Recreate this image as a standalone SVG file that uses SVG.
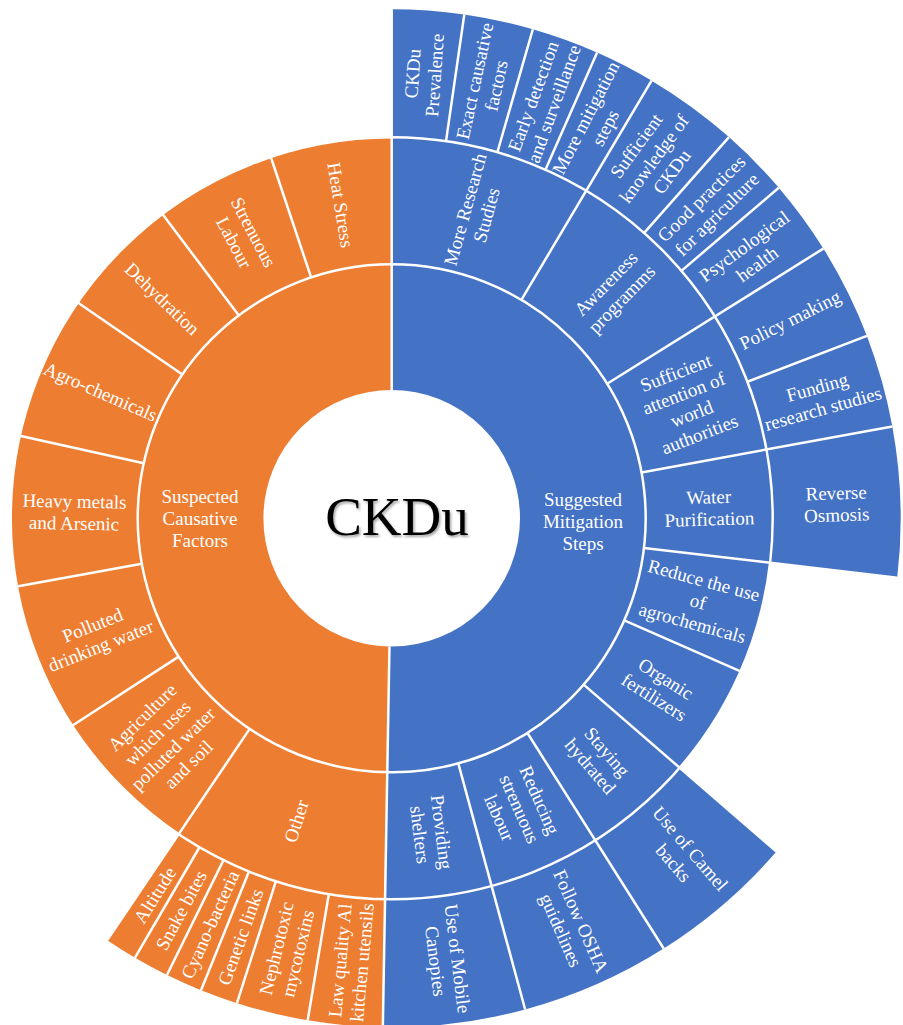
<svg xmlns="http://www.w3.org/2000/svg" width="903" height="1025" viewBox="0 0 903 1025">
  <defs>
    <style>
      .b { fill: none; stroke: #4472C4; }
      .o { fill: none; stroke: #ED7D31; }
      .w1 { stroke-width: 125.7; }
      .w2 { stroke-width: 127; }
      .w3 { stroke-width: 128; }
      .lbl { font-family: "Liberation Serif", "Times New Roman", serif; font-size: 19px; fill: #ffffff; text-anchor: middle; }
      .dividers line, .dividers circle { stroke: #ffffff; stroke-width: 2.5; fill: none; }
    </style>
    <filter id="soft-shadow" x="-10%" y="-20%" width="120%" height="150%">
      <feDropShadow dx="1.5" dy="2" stdDeviation="1.2" flood-color="#000" flood-opacity="0.35"/>
    </filter>
  </defs>

  <rect width="903" height="1025" fill="#ffffff"/>

  <!-- Sunburst: every segment is a dashed circle stroke, dash units in degrees (pathLength=360) -->
  <g id="sunburst" transform="translate(391.7 518.3)">

    <!-- Level 1 -->
    <g id="n-mitigation">
      <circle class="b w1" r="191.15" pathLength="360" stroke-dasharray="181 400" transform="rotate(-90)"/>
    </g>
    <g id="n-causative">
      <circle class="o w1" r="191.15" pathLength="360" stroke-dasharray="179 400" transform="rotate(91)"/>
    </g>

    <!-- Level 2: mitigation steps -->
    <g id="n-more-research">
      <circle class="b w2" r="317.5" pathLength="360" stroke-dasharray="30.7 400" transform="rotate(-90)"/>
      <text class="lbl" transform="rotate(15.35) translate(0 -317.5) rotate(-90)"><tspan x="0" y="-4.5">More Research</tspan><tspan x="0" y="17.5">Studies</tspan></text>
    </g>
    <g id="n-awareness">
      <circle class="b w2" r="317.5" pathLength="360" stroke-dasharray="27.3 400" transform="rotate(-59.3)"/>
      <text class="lbl" transform="rotate(44.35) translate(0 -317.5) rotate(-90)"><tspan x="0" y="-4.5">Awareness</tspan><tspan x="0" y="17.5">programms</tspan></text>
    </g>
    <g id="n-attention">
      <circle class="b w2" r="317.5" pathLength="360" stroke-dasharray="21.6 400" transform="rotate(-32)"/>
      <text class="lbl" transform="rotate(68.8) translate(0 -317.5) rotate(-90)"><tspan x="0" y="-26.5">Sufficient</tspan><tspan x="0" y="-4.5">attention of</tspan><tspan x="0" y="17.5">world</tspan><tspan x="0" y="39.5">authorities</tspan></text>
    </g>
    <g id="n-water-purification">
      <circle class="b w2" r="317.5" pathLength="360" stroke-dasharray="17.1 400" transform="rotate(-10.4)"/>
      <text class="lbl" transform="rotate(88.15) translate(0 -317.5) rotate(-90)"><tspan x="0" y="-4.5">Water</tspan><tspan x="0" y="17.5">Purification</tspan></text>
    </g>
    <g id="n-reduce-agrochemicals">
      <circle class="b w2" r="317.5" pathLength="360" stroke-dasharray="17 400" transform="rotate(6.7)"/>
      <text class="lbl" transform="rotate(105.2) translate(0 -317.5) rotate(-90)"><tspan x="0" y="-15.5">Reduce the use</tspan><tspan x="0" y="6.5">of</tspan><tspan x="0" y="28.5">agrochemicals</tspan></text>
    </g>
    <g id="n-organic">
      <circle class="b w2" r="317.5" pathLength="360" stroke-dasharray="17.2 400" transform="rotate(23.7)"/>
      <text class="lbl" transform="rotate(122.3) translate(0 -317.5) rotate(-90)"><tspan x="0" y="-4.5">Organic</tspan><tspan x="0" y="17.5">fertilizers</tspan></text>
    </g>
    <g id="n-hydrated">
      <circle class="b w2" r="317.5" pathLength="360" stroke-dasharray="16.8 400" transform="rotate(40.9)"/>
      <text class="lbl" transform="rotate(139.3) translate(0 -317.5) rotate(-90)"><tspan x="0" y="-4.5">Staying</tspan><tspan x="0" y="17.5">hydrated</tspan></text>
    </g>
    <g id="n-reduce-labour">
      <circle class="b w2" r="317.5" pathLength="360" stroke-dasharray="17.1 400" transform="rotate(57.7)"/>
      <text class="lbl" transform="rotate(156.25) translate(0 -317.5) rotate(-90)"><tspan x="0" y="-15.5">Reducing</tspan><tspan x="0" y="6.5">strenuous</tspan><tspan x="0" y="28.5">labour</tspan></text>
    </g>
    <g id="n-shelters">
      <circle class="b w2" r="317.5" pathLength="360" stroke-dasharray="16.2 400" transform="rotate(74.8)"/>
      <text class="lbl" transform="rotate(172.9) translate(0 -317.5) rotate(-90)"><tspan x="0" y="-4.5">Providing</tspan><tspan x="0" y="17.5">shelters</tspan></text>
    </g>

    <!-- Level 2: causative factors -->
    <g id="n-other">
      <circle class="o w2" r="317.5" pathLength="360" stroke-dasharray="33 400" transform="rotate(91)"/>
      <text class="lbl" transform="rotate(197.5) translate(0 -317.5) rotate(90)"><tspan x="0" y="6.5">Other</tspan></text>
    </g>
    <g id="n-agriculture">
      <circle class="o w2" r="317.5" pathLength="360" stroke-dasharray="23 400" transform="rotate(124)"/>
      <text class="lbl" transform="rotate(225.5) translate(0 -317.5) rotate(90)"><tspan x="0" y="-26.5">Agriculture</tspan><tspan x="0" y="-4.5">which uses</tspan><tspan x="0" y="17.5">polluted water</tspan><tspan x="0" y="39.5">and soil</tspan></text>
    </g>
    <g id="n-polluted-water">
      <circle class="o w2" r="317.5" pathLength="360" stroke-dasharray="22.7 400" transform="rotate(147)"/>
      <text class="lbl" transform="rotate(248.35) translate(0 -317.5) rotate(90)"><tspan x="0" y="-4.5">Polluted</tspan><tspan x="0" y="17.5">drinking water</tspan></text>
    </g>
    <g id="n-heavy-metals">
      <circle class="o w2" r="317.5" pathLength="360" stroke-dasharray="22.8 400" transform="rotate(169.7)"/>
      <text class="lbl" transform="rotate(271.1) translate(0 -317.5) rotate(90)"><tspan x="0" y="-4.5">Heavy metals</tspan><tspan x="0" y="17.5">and Arsenic</tspan></text>
    </g>
    <g id="n-agro-chemicals">
      <circle class="o w2" r="317.5" pathLength="360" stroke-dasharray="22 400" transform="rotate(192.5)"/>
      <text class="lbl" transform="rotate(293.5) translate(0 -317.5) rotate(90)"><tspan x="0" y="6.5">Agro-chemicals</tspan></text>
    </g>
    <g id="n-dehydration">
      <circle class="o w2" r="317.5" pathLength="360" stroke-dasharray="18.5 400" transform="rotate(214.5)"/>
      <text class="lbl" transform="rotate(313.75) translate(0 -317.5) rotate(90)"><tspan x="0" y="6.5">Dehydration</tspan></text>
    </g>
    <g id="n-strenuous-labour">
      <circle class="o w2" r="317.5" pathLength="360" stroke-dasharray="18.5 400" transform="rotate(233)"/>
      <text class="lbl" transform="rotate(332.25) translate(0 -317.5) rotate(90)"><tspan x="0" y="-4.5">Strenuous</tspan><tspan x="0" y="17.5">Labour</tspan></text>
    </g>
    <g id="n-heat-stress">
      <circle class="o w2" r="317.5" pathLength="360" stroke-dasharray="18.5 400" transform="rotate(251.5)"/>
      <text class="lbl" transform="rotate(350.75) translate(0 -317.5) rotate(90)"><tspan x="0" y="6.5">Heat Stress</tspan></text>
    </g>

    <!-- Level 3: mitigation details -->
    <g id="n-prevalence">
      <circle class="b w3" r="445" pathLength="360" stroke-dasharray="8.2 400" transform="rotate(-90)"/>
      <text class="lbl" transform="rotate(4.1) translate(0 -445) rotate(-90)"><tspan x="0" y="-4.5">CKDu</tspan><tspan x="0" y="17.5">Prevalence</tspan></text>
    </g>
    <g id="n-exact-factors">
      <circle class="b w3" r="445" pathLength="360" stroke-dasharray="7.9 400" transform="rotate(-81.8)"/>
      <text class="lbl" transform="rotate(12.15) translate(0 -445) rotate(-90)"><tspan x="0" y="-4.5">Exact causative</tspan><tspan x="0" y="17.5">factors</tspan></text>
    </g>
    <g id="n-early-detection">
      <circle class="b w3" r="445" pathLength="360" stroke-dasharray="7.7 400" transform="rotate(-73.9)"/>
      <text class="lbl" transform="rotate(19.95) translate(0 -445) rotate(-90)"><tspan x="0" y="-4.5">Early detection</tspan><tspan x="0" y="17.5">and surveillance</tspan></text>
    </g>
    <g id="n-more-mitigation">
      <circle class="b w3" r="445" pathLength="360" stroke-dasharray="6.9 400" transform="rotate(-66.2)"/>
      <text class="lbl" transform="rotate(27.25) translate(0 -445) rotate(-90)"><tspan x="0" y="-4.5">More mitigation</tspan><tspan x="0" y="17.5">steps</tspan></text>
    </g>
    <g id="n-knowledge">
      <circle class="b w3" r="445" pathLength="360" stroke-dasharray="10.8 400" transform="rotate(-59.3)"/>
      <text class="lbl" transform="rotate(36.1) translate(0 -445) rotate(-90)"><tspan x="0" y="-15.5">Sufficient</tspan><tspan x="0" y="6.5">knowledge of</tspan><tspan x="0" y="28.5">CKDu</tspan></text>
    </g>
    <g id="n-good-practices">
      <circle class="b w3" r="445" pathLength="360" stroke-dasharray="8 400" transform="rotate(-48.5)"/>
      <text class="lbl" transform="rotate(45.5) translate(0 -445) rotate(-90)"><tspan x="0" y="-4.5">Good practices</tspan><tspan x="0" y="17.5">for agriculture</tspan></text>
    </g>
    <g id="n-psychological">
      <circle class="b w3" r="445" pathLength="360" stroke-dasharray="8.5 400" transform="rotate(-40.5)"/>
      <text class="lbl" transform="rotate(53.75) translate(0 -445) rotate(-90)"><tspan x="0" y="-4.5">Psychological</tspan><tspan x="0" y="17.5">health</tspan></text>
    </g>
    <g id="n-policy">
      <circle class="b w3" r="445" pathLength="360" stroke-dasharray="11 400" transform="rotate(-32)"/>
      <text class="lbl" transform="rotate(63.5) translate(0 -445) rotate(-90)"><tspan x="0" y="6.5">Policy making</tspan></text>
    </g>
    <g id="n-funding">
      <circle class="b w3" r="445" pathLength="360" stroke-dasharray="10.6 400" transform="rotate(-21)"/>
      <text class="lbl" transform="rotate(74.3) translate(0 -445) rotate(-90)"><tspan x="0" y="-4.5">Funding</tspan><tspan x="0" y="17.5">research studies</tspan></text>
    </g>
    <g id="n-reverse-osmosis">
      <circle class="b w3" r="445" pathLength="360" stroke-dasharray="17.1 400" transform="rotate(-10.4)"/>
      <text class="lbl" transform="rotate(88.15) translate(0 -445) rotate(-90)"><tspan x="0" y="-4.5">Reverse</tspan><tspan x="0" y="17.5">Osmosis</tspan></text>
    </g>
    <g id="n-camel-backs">
      <circle class="b w3" r="445" pathLength="360" stroke-dasharray="16.8 400" transform="rotate(40.9)"/>
      <text class="lbl" transform="rotate(139.3) translate(0 -445) rotate(-90)"><tspan x="0" y="-4.5">Use of Camel</tspan><tspan x="0" y="17.5">backs</tspan></text>
    </g>
    <g id="n-osha">
      <circle class="b w3" r="445" pathLength="360" stroke-dasharray="17.1 400" transform="rotate(57.7)"/>
      <text class="lbl" transform="rotate(156.25) translate(0 -445) rotate(-90)"><tspan x="0" y="-4.5">Follow OSHA</tspan><tspan x="0" y="17.5">guidelines</tspan></text>
    </g>
    <g id="n-canopies">
      <circle class="b w3" r="445" pathLength="360" stroke-dasharray="16.2 400" transform="rotate(74.8)"/>
      <text class="lbl" transform="rotate(172.9) translate(0 -445) rotate(-90)"><tspan x="0" y="-4.5">Use of Mobile</tspan><tspan x="0" y="17.5">Canopies</tspan></text>
    </g>

    <!-- Level 3: other factors -->
    <g id="n-utensils">
      <circle class="o w3" r="445" pathLength="360" stroke-dasharray="8.5 400" transform="rotate(91)"/>
      <text class="lbl" transform="rotate(185.25) translate(0 -445) rotate(90)"><tspan x="0" y="-4.5">Law quality Al</tspan><tspan x="0" y="17.5">kitchen utensils</tspan></text>
    </g>
    <g id="n-mycotoxins">
      <circle class="o w3" r="445" pathLength="360" stroke-dasharray="8.2 400" transform="rotate(99.5)"/>
      <text class="lbl" transform="rotate(193.6) translate(0 -445) rotate(90)"><tspan x="0" y="-4.5">Nephrotoxic</tspan><tspan x="0" y="17.5">mycotoxins</tspan></text>
    </g>
    <g id="n-genetic">
      <circle class="o w3" r="445" pathLength="360" stroke-dasharray="4.3 400" transform="rotate(107.7)"/>
      <text class="lbl" transform="rotate(199.85) translate(0 -445) rotate(90)"><tspan x="0" y="6.5">Genetic links</tspan></text>
    </g>
    <g id="n-cyanobacteria">
      <circle class="o w3" r="445" pathLength="360" stroke-dasharray="4.2 400" transform="rotate(112)"/>
      <text class="lbl" transform="rotate(204.1) translate(0 -445) rotate(90)"><tspan x="0" y="6.5">Cyano-bacteria</tspan></text>
    </g>
    <g id="n-snake-bites">
      <circle class="o w3" r="445" pathLength="360" stroke-dasharray="4.1 400" transform="rotate(116.2)"/>
      <text class="lbl" transform="rotate(208.25) translate(0 -445) rotate(90)"><tspan x="0" y="6.5">Snake bites</tspan></text>
    </g>
    <g id="n-altitude">
      <circle class="o w3" r="445" pathLength="360" stroke-dasharray="3.7 400" transform="rotate(120.3)"/>
      <text class="lbl" transform="rotate(212.15) translate(0 -445) rotate(90)"><tspan x="0" y="6.5">Altitude</tspan></text>
    </g>

    <!-- White dividers between rings and segments -->
    <g id="dividers" class="dividers">
      <circle r="254"/>
      <circle r="381"/>
      <line y1="-128.3" y2="-509" transform="rotate(0)"/>
      <line y1="-128.3" y2="-509" transform="rotate(181)"/>
      <line y1="-254" y2="-509" transform="rotate(30.7)"/>
      <line y1="-254" y2="-509" transform="rotate(58)"/>
      <line y1="-254" y2="-509" transform="rotate(79.6)"/>
      <line y1="-254" y2="-509" transform="rotate(96.7)"/>
      <line y1="-254" y2="-509" transform="rotate(130.9)"/>
      <line y1="-254" y2="-509" transform="rotate(147.7)"/>
      <line y1="-254" y2="-509" transform="rotate(164.8)"/>
      <line y1="-254" y2="-509" transform="rotate(214)"/>
      <line y1="-254" y2="-381" transform="rotate(113.7)"/>
      <line y1="-254" y2="-381" transform="rotate(237)"/>
      <line y1="-254" y2="-381" transform="rotate(259.7)"/>
      <line y1="-254" y2="-381" transform="rotate(282.5)"/>
      <line y1="-254" y2="-381" transform="rotate(304.5)"/>
      <line y1="-254" y2="-381" transform="rotate(323)"/>
      <line y1="-254" y2="-381" transform="rotate(341.5)"/>
      <line y1="-381" y2="-509" transform="rotate(8.2)"/>
      <line y1="-381" y2="-509" transform="rotate(16.1)"/>
      <line y1="-381" y2="-509" transform="rotate(23.8)"/>
      <line y1="-381" y2="-509" transform="rotate(41.5)"/>
      <line y1="-381" y2="-509" transform="rotate(49.5)"/>
      <line y1="-381" y2="-509" transform="rotate(69)"/>
      <line y1="-381" y2="-509" transform="rotate(189.5)"/>
      <line y1="-381" y2="-509" transform="rotate(197.7)"/>
      <line y1="-381" y2="-509" transform="rotate(202)"/>
      <line y1="-381" y2="-509" transform="rotate(206.2)"/>
      <line y1="-381" y2="-509" transform="rotate(210.3)"/>
    </g>
  </g>

  <!-- Level 1 labels -->
  <text class="lbl" x="583" y="505.5"><tspan x="583" y="505.5">Suggested</tspan><tspan x="583" y="527.5">Mitigation</tspan><tspan x="583" y="549.5">Steps</tspan></text>
  <text class="lbl" x="200" y="502.5"><tspan x="200" y="502.5">Suspected</tspan><tspan x="200" y="524.5">Causative</tspan><tspan x="200" y="546.5">Factors</tspan></text>

  <!-- Root label -->
  <g id="n-root">
    <text x="397" y="535" font-family="'Liberation Serif', 'Times New Roman', serif" font-size="55" fill="#000000" text-anchor="middle" filter="url(#soft-shadow)">CKDu</text>
  </g>
</svg>
